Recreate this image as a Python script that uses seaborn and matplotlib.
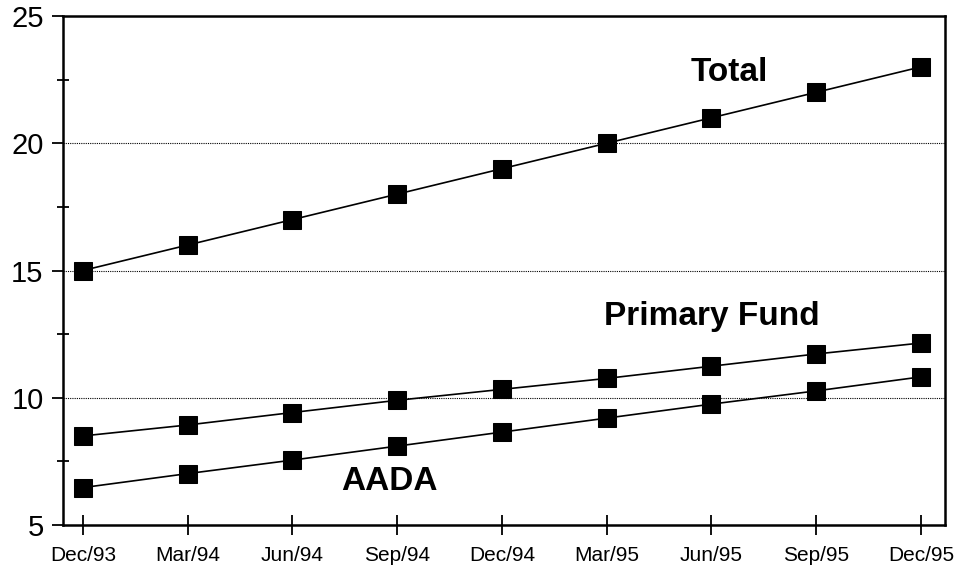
import matplotlib
matplotlib.use("Agg")
import matplotlib.pyplot as plt
import seaborn as sns
import pandas as pd

quarters = ["Dec/93", "Mar/94", "Jun/94", "Sep/94", "Dec/94",
            "Mar/95", "Jun/95", "Sep/95", "Dec/95"]
total = [15, 16, 17, 18, 19, 20, 21, 22, 23]
primary_fund = [8.5, 8.93, 9.42, 9.9, 10.33, 10.76, 11.24, 11.72, 12.15]
aada = [6.47, 7.02, 7.55, 8.1, 8.65, 9.2, 9.75, 10.27, 10.82]

sns.set_style("ticks")
plt.rcParams["font.family"] = ["Liberation Sans", "DejaVu Sans"]
plt.rcParams["text.color"] = "black"
plt.rcParams["xtick.color"] = "black"
plt.rcParams["ytick.color"] = "black"
plt.rcParams["axes.edgecolor"] = "black"

df = pd.DataFrame({
    "pos": list(range(len(quarters))) * 3,
    "value": total + primary_fund + aada,
    "series": ["Total"] * 9 + ["Primary Fund"] * 9 + ["AADA"] * 9,
})

fig = plt.figure(figsize=(9.59, 5.69), dpi=100)
ax = fig.add_axes([0.0657, 0.0773, 0.9197, 0.8946])

for name in ["Total", "Primary Fund", "AADA"]:
    sns.lineplot(data=df[df["series"] == name], x="pos", y="value",
                 color="black", marker="s", markersize=13, linewidth=1.2,
                 markeredgecolor="black", ax=ax, legend=False)

ax.set_xlim(-0.19, 8.23)
ax.set_ylim(5, 25)
ax.set_xticks(range(len(quarters)))
ax.set_xticklabels(quarters, fontsize=15)
ax.set_yticks([5, 10, 15, 20, 25])
ax.set_yticks([7.5, 12.5, 17.5, 22.5], minor=True)
ax.tick_params(axis="y", which="major", labelsize=21, length=8, width=1.3,
               direction="out", pad=6)
ax.tick_params(axis="y", which="minor", length=8, width=1.3, direction="inout")
ax.tick_params(axis="x", which="major", length=14, width=1.3, direction="inout",
               pad=8)
ax.set_xlabel("")
ax.set_ylabel("")

for y in [10, 15, 20]:
    ax.axhline(y, color="black", linestyle=(0, (1, 1)), linewidth=0.8, zorder=0)

for s in ax.spines.values():
    s.set_visible(True)
    s.set_linewidth(1.8)

ax.text(6.17, 22.45, "Total", fontsize=24, fontweight="bold", ha="center", va="baseline")
ax.text(6.0, 12.86, "Primary Fund", fontsize=24, fontweight="bold", ha="center", va="baseline")
ax.text(2.93, 6.38, "AADA", fontsize=24, fontweight="bold", ha="center", va="baseline")

fig.savefig("out.png", dpi=100)
